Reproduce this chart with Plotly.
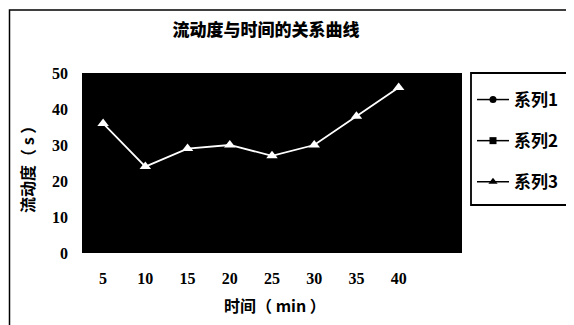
import plotly.graph_objects as go

times = [5, 10, 15, 20, 25, 30, 35, 40]
series1 = [None] * 8
series2 = [None] * 8
series3 = [36, 24, 29, 30, 27, 30, 38, 46]
y_ticks = [0, 10, 20, 30, 40, 50]

title = "流动度与时间的关系曲线"
x_title = "时间（ min ）"
y_title = "流动度（ s ）"

cjk = "Noto Sans CJK SC"
num_font = "Liberation Serif"

# page is offset by the default 8px body margin; layout numbers below are figure pixels
L, T, PW, PH = 74, 65, 380, 180
W, H = 574, 325

fig = go.Figure()
fig.add_trace(go.Scatter(x=times, y=series3, mode="lines+markers", showlegend=False,
                         line=dict(color="white", width=1.8),
                         marker=dict(symbol="triangle-up", size=10, color="white")))
fig.add_trace(go.Scatter(x=times, y=series1, mode="lines+markers", name="系列1", legendgroup="a",
                         line=dict(color="black", width=1.5), marker=dict(symbol="circle", size=7, color="black")))
fig.add_trace(go.Scatter(x=times, y=series2, mode="lines+markers", name="系列2", legendgroup="b",
                         line=dict(color="black", width=1.5), marker=dict(symbol="square", size=7, color="black")))
fig.add_trace(go.Scatter(x=times, y=[None] * 8, mode="lines+markers", name="系列3", legendgroup="c",
                         line=dict(color="black", width=1.5), marker=dict(symbol="triangle-up", size=8, color="black")))

def px(xw):
    return (xw - 8 - L) / PW

def py(yw):
    return (T + PH - (yw - 8)) / PH

fig.update_layout(
    width=W, height=H,
    margin=dict(l=L, r=W - L - PW, t=T, b=H - T - PH, autoexpand=False),
    paper_bgcolor="white", plot_bgcolor="black",
    title=dict(text=title, x=(266 - 8) / W, xanchor="center", y=1 - (30 - 8) / H, yanchor="middle",
               font=dict(family=cjk, size=17, color="black", weight=900)),
    font=dict(family=cjk, color="black"),
    xaxis=dict(range=[2.5, 47.5], tickvals=times, ticktext=[str(t) for t in times],
               showgrid=False, zeroline=False, showline=False, ticks="", automargin=False,
               tickfont=dict(family=num_font, size=16, color="black", weight="bold"),
               ticklabelstandoff=14),
    yaxis=dict(range=[0, 50], tickvals=y_ticks, ticktext=[str(t) for t in y_ticks],
               showgrid=False, zeroline=False, showline=False, ticks="", automargin=False,
               tickfont=dict(family=num_font, size=16, color="black", weight="bold"),
               ticklabelstandoff=13),
    legend=dict(x=px(472), y=py(82), xanchor="left", yanchor="top",
                bgcolor="rgba(0,0,0,0)", borderwidth=0,
                font=dict(family=cjk, size=17, color="black", weight="bold"),
                tracegroupgap=16, itemwidth=32),
    annotations=[
        dict(text=x_title, xref="paper", yref="paper", x=px(275), y=py(305),
             xanchor="center", yanchor="middle", showarrow=False,
             font=dict(family=cjk, size=16, color="black", weight="bold")),
        dict(text=y_title, xref="paper", yref="paper", x=px(27), y=py(166), textangle=-90,
             xanchor="center", yanchor="middle", showarrow=False,
             font=dict(family=cjk, size=16, color="black", weight="bold")),
    ],
    shapes=[
        dict(type="rect", xref="paper", yref="paper", x0=px(9.5), x1=px(572), y0=-0.5, y1=py(10),
             line=dict(color="black", width=1.5), fillcolor="rgba(0,0,0,0)", layer="below"),
        dict(type="rect", xref="paper", yref="paper", x0=px(471), x1=px(572), y0=py(205), y1=py(73),
             line=dict(color="black", width=1.8), fillcolor="white", layer="below"),
    ],
)

fig.write_html("out.html")
